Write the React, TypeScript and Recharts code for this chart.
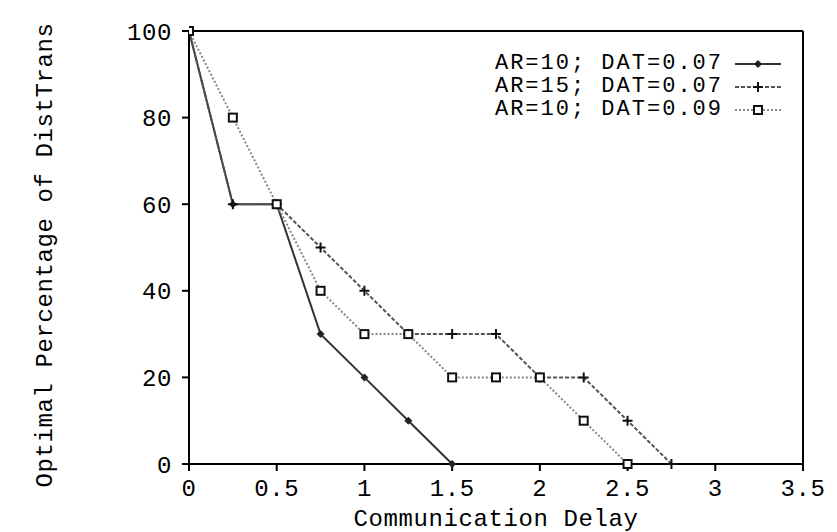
import { LineChart, Line, XAxis, YAxis, ReferenceLine } from "recharts";

const FONT = "'Liberation Mono', 'DejaVu Sans Mono', monospace";

const xTicks = [0, 0.5, 1, 1.5, 2, 2.5, 3, 3.5];
const yTicks = [0, 20, 40, 60, 80, 100];

const delaysA = [0, 0.25, 0.5, 0.75, 1, 1.25, 1.5];
const valuesA = [100, 60, 60, 30, 20, 10, 0];

const delaysB = [0, 0.25, 0.5, 0.75, 1, 1.25, 1.5, 1.75, 2, 2.25, 2.5, 2.75];
const valuesB = [100, 60, 60, 50, 40, 30, 30, 30, 20, 20, 10, 0];

const delaysC = [0, 0.25, 0.5, 0.75, 1, 1.25, 1.5, 1.75, 2, 2.25, 2.5];
const valuesC = [100, 80, 60, 40, 30, 30, 20, 20, 20, 10, 0];

const names = ["AR=10; DAT=0.07", "AR=15; DAT=0.07", "AR=10; DAT=0.09"];

const toRows = (xs: number[], ys: number[]) => xs.map((x, i) => ({ x, y: ys[i] }));

const Diamond = (props: any) => {
  const { cx, cy } = props;
  if (cx == null || cy == null) return null;
  return <path d={`M${cx},${cy - 4}L${cx + 4},${cy}L${cx},${cy + 4}L${cx - 4},${cy}Z`} fill="#222" />;
};

const Plus = (props: any) => {
  const { cx, cy } = props;
  if (cx == null || cy == null) return null;
  return <path d={`M${cx - 5},${cy}H${cx + 5}M${cx},${cy - 5}V${cy + 5}`} stroke="#111" strokeWidth={2} />;
};

const Square = (props: any) => {
  const { cx, cy } = props;
  if (cx == null || cy == null) return null;
  return <rect x={cx - 4} y={cy - 4} width={8} height={8} fill="#fff" stroke="#111" strokeWidth={2} />;
};

const styles = [
  { stroke: "#333", dash: undefined as string | undefined, Dot: Diamond },
  { stroke: "#555", dash: "4 2", Dot: Plus },
  { stroke: "#888", dash: "2 2", Dot: Square },
];

const LegendBox = () => (
  <div
    style={{
      position: "absolute",
      top: 52,
      right: 48,
      fontFamily: FONT,
      fontSize: 22,
      letterSpacing: 2,
      color: "#000",
    }}
  >
    {names.map((n, i) => {
      const s = styles[i];
      const D = s.Dot;
      return (
        <div key={n} style={{ display: "flex", justifyContent: "flex-end", alignItems: "center", height: 23 }}>
          <span style={{ lineHeight: "23px" }}>{n}</span>
          <svg width={60} height={22} style={{ marginLeft: 6 }}>
            <line x1={6} x2={52} y1={11} y2={11} stroke={s.stroke} strokeWidth={2} strokeDasharray={s.dash} />
            <D cx={29} cy={11} />
          </svg>
        </div>
      );
    })}
  </div>
);

const YLabel = () => (
  <text
    x={45}
    y={255}
    transform="rotate(-90 45 255)"
    textAnchor="middle"
    dominantBaseline="central"
    fontFamily={FONT}
    fontSize={24}
    letterSpacing={0.6}
    fill="#000"
  >
    Optimal Percentage of DistTrans
  </text>
);

export default function App() {
  const series = [toRows(delaysA, valuesA), toRows(delaysB, valuesB), toRows(delaysC, valuesC)];
  const tickStyle = { fontFamily: FONT, fontSize: 24, letterSpacing: 0.6, fill: "#000" };
  return (
    <div style={{ position: "absolute", left: 0, top: 0, width: 837, height: 532, background: "#fff" }}>
      <LineChart width={837} height={532} margin={{ top: 31, right: 34, bottom: 0, left: 0 }}>
        <XAxis
          type="number"
          dataKey="x"
          domain={[0, 3.5]}
          ticks={xTicks}
          height={68}
          stroke="#000"
          strokeWidth={2}
          tickSize={7}
          tickMargin={8}
          tick={tickStyle}
          tickLine={{ stroke: "#000", strokeWidth: 2 }}
          interval={0}
          allowDataOverflow
          label={{ value: "Communication Delay", position: "insideBottom", offset: 6, style: { ...tickStyle } }}
        />
        <YAxis
          type="number"
          domain={[0, 100]}
          ticks={yTicks}
          width={189}
          stroke="#000"
          strokeWidth={2}
          tickSize={7}
          tickMargin={10}
          tick={tickStyle}
          tickLine={{ stroke: "#000", strokeWidth: 2 }}
          interval={0}
          label={<YLabel />}
        />
        <ReferenceLine y={100} stroke="#000" strokeWidth={2} ifOverflow="visible" />
        <ReferenceLine x={3.5} stroke="#000" strokeWidth={2} ifOverflow="visible" />
        {series.map((d, i) => {
          const s = styles[i];
          const D = s.Dot;
          return (
            <Line
              key={names[i]}
              name={names[i]}
              data={d}
              dataKey="y"
              type="linear"
              stroke={s.stroke}
              strokeWidth={2}
              strokeDasharray={s.dash}
              dot={<D />}
              activeDot={false}
              isAnimationActive={false}
            />
          );
        })}
      </LineChart>
      <LegendBox />
    </div>
  );
}
